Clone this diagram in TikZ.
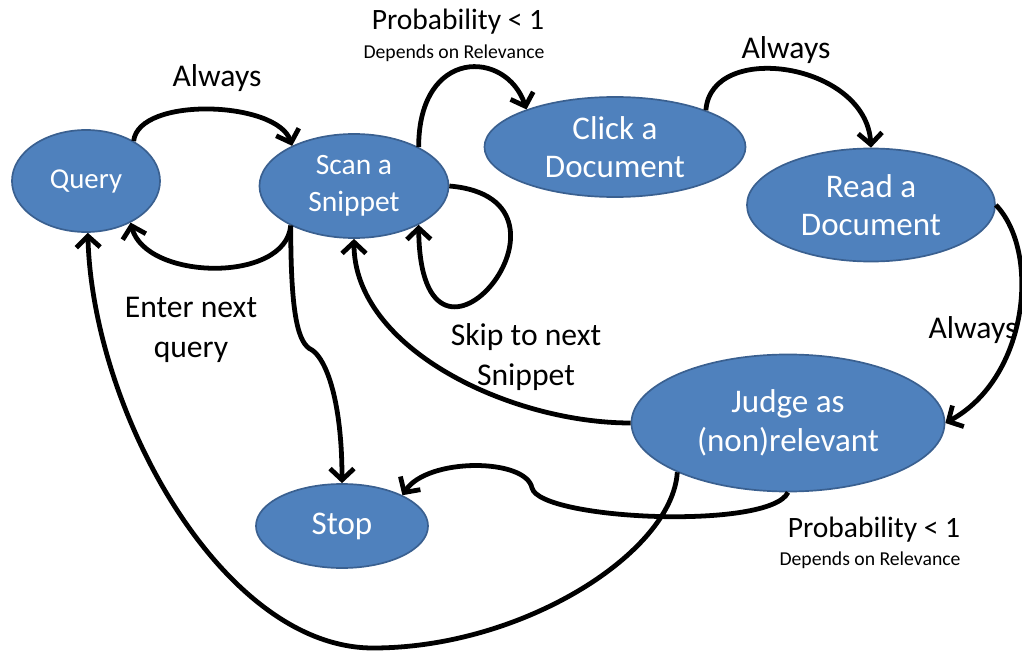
\documentclass[tikz,border=0pt]{standalone}
\usepackage{fontspec}
\setmainfont{Carlito}
\usetikzlibrary{arrows.meta,shapes.geometric}

\definecolor{stateblue}{HTML}{4F81BD}
\definecolor{stateline}{HTML}{3A6090}

\begin{document}
\begin{tikzpicture}[x=0.025cm, y=-0.025cm,
    state/.style={ellipse, draw=stateline, line width=1.2pt, fill=stateblue, text=white, align=center, inner sep=0pt},
    bigstate/.style={state, font=\fontsize{23.5}{27.5}\selectfont},
    flow/.style={line width=3.4pt, -{Straight Barb[length=8pt,width=17pt]}},
    lbl/.style={font=\fontsize{22.5}{28}\selectfont, align=center},
    prob/.style={font=\fontsize{21}{25}\selectfont},
    note/.style={font=\fontsize{14}{16}\selectfont}
  ]
    \useasboundingbox (0,0) rectangle (1022,657);

    \node[state, minimum width=3.7cm, minimum height=2.55cm, font=\fontsize{20.5}{24}\selectfont] (query) at (86,181) {Query};
    \node[state, minimum width=4.725cm, minimum height=2.6cm, font=\fontsize{21}{26}\selectfont] (scan) at (354,186) {Scan a\\Snippet};
    \node[bigstate, minimum width=6.525cm, minimum height=2.5cm] (click) at (615,147) {Click a\\Document};
    \node[bigstate, minimum width=6.2cm, minimum height=2.825cm] (read) at (871,205) {Read a\\Document};
    \node[bigstate, minimum width=7.825cm, minimum height=3.425cm] (judge) at (788,423) {Judge as\\(non)relevant};
    \node[bigstate, minimum width=4.3cm, minimum height=2.1cm] (stop) at (342,526) {Stop};

    % labels
    \node[lbl] (always1) at (217,78) {Always};
    \node[prob] (prob1) at (458,22) {Probability < 1};
    \node[note] (dep1) at (454,53) {Depends on Relevance};
    \node[lbl] (always2) at (786,50) {Always};
    \node[lbl] (always3) at (973,330) {Always};
    \node[lbl] (enter) at (191,330) {Enter next\\query};
    \node[lbl] (skip) at (526,357) {Skip to next\\Snippet};
    \node[prob] (prob2) at (874,530) {Probability < 1};
    \node[note] (dep2) at (870,560) {Depends on Relevance};

    % transitions
    \draw[flow] (query.40) .. controls +(5,-45) and +(-15,-45) .. (scan.147);
    \draw[flow] (scan.212) .. controls +(-5,58) and +(15,58) .. (query.-43);
    \draw[flow] (scan.31) .. controls +(0,-100) and +(-20,-60) .. (click.157);
    \draw[flow] (click.22) .. controls +(5,-70) and +(-5,-85) .. (read.90);
    \draw[flow] (read.0) .. controls +(45,47) and +(83,-45) .. (judge.0);
    \draw[flow] (scan.0) .. controls +(153,13) and +(2,195) .. (scan.-31);
    \draw[flow] (judge.180) .. controls +(-120,0) and +(0,110) .. (scan.-90);
    \draw[flow] (scan.212) .. controls +(0,90) and +(-14,-6) .. (312,350)
      .. controls +(15,10) and +(0,-80) .. (stop.90);
    \draw[flow] (judge.-90) .. controls +(-18,38) and +(8,32) .. (532,488)
      .. controls +(-6,-30) and +(25,-38) .. (stop.27);
    \draw[flow] (judge.204) .. controls +(-5,80) and +(150,0) .. (373,648)
      .. controls +(-150,0) and +(5,180) .. (query.-88);
\end{tikzpicture}
\end{document}
